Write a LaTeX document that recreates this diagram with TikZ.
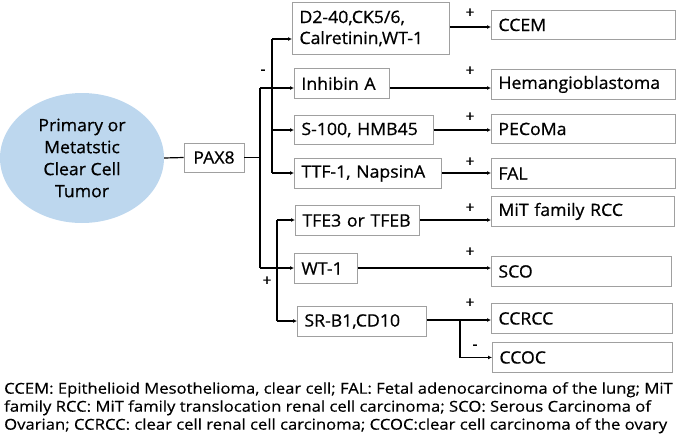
\documentclass[tikz,border=0pt]{standalone}
\usepackage{fontspec}
\setmainfont{Open Sans}
\newfontfamily\bxfont{Open Sans}[FakeBold=0.7, FakeStretch=1.04]
\newfontfamily\capfont{Open Sans}[FakeBold=0.4, FakeStretch=1.11]
\usetikzlibrary{arrows.meta,shapes.geometric}
\definecolor{boxgray}{RGB}{160,160,160}
\definecolor{ellblue}{RGB}{189,215,238}
\begin{document}
\begin{tikzpicture}[x=1pt,y=-1pt,
  box/.style={draw=boxgray, line width=0.9pt, inner xsep=7pt, inner ysep=0pt,
    anchor=north west, align=left, font=\bxfont\fontsize{17}{21}\selectfont},
  arr/.style={-{Latex[length=4pt,width=4pt]}, line width=1.2pt},
  ln/.style={line width=1.2pt},
  lbl/.style={font=\bxfont\fontsize{15}{15}\selectfont, inner sep=0pt}]
\useasboundingbox (0,0) rectangle (685,442);
% ellipse
\node[ellipse, fill=ellblue, minimum width=164pt, minimum height=130pt, inner sep=0pt,
  align=center, font=\bxfont\fontsize{17}{22}\selectfont] (ell) at (82,158)
  {Primary or\\Metatstic\\Clear Cell\\Tumor};
\node[draw=boxgray, line width=0.9pt, minimum width=60pt, minimum height=29pt, inner sep=0pt,
  font=\bxfont\fontsize{17}{21}\selectfont] (pax) at (214,157.5) {PAX8};
% middle boxes
\node[box, text width=143pt, minimum height=52pt] (d2) at (292,2) {D2-40,CK5/6,\\Calretinin,WT-1};
\node[box, text width=81pt, minimum height=30pt] (inh) at (294,68) {Inhibin A};
\node[box, text width=125pt, minimum height=29pt] (s100) at (294,115) {S-100, HMB45};
\node[box, text width=133pt, minimum height=30pt] (ttf) at (294,158) {TTF-1, NapsinA};
\node[box, text width=110pt, minimum height=30pt] (tfe) at (295,205) {TFE3 or TFEB};
\node[box, text width=49pt, minimum height=30pt] (wt) at (294,253) {WT-1};
\node[box, text width=115pt, minimum height=30pt] (sr) at (297,306) {SR-B1,CD10};
% right boxes
\node[box, text width=170pt, minimum height=29pt] (ccem) at (491,10) {CCEM};
\node[box, text width=170pt, minimum height=30pt] (hem) at (491,69) {Hemangioblastoma};
\node[box, text width=170pt, minimum height=29pt] (pec) at (491,114) {PECoMa};
\node[box, text width=170pt, minimum height=30pt] (fal) at (491,158) {FAL};
\node[box, text width=169pt, minimum height=30pt] (mit) at (491,196) {MiT family RCC};
\node[box, text width=166pt, minimum height=30pt] (sco) at (491,256) {SCO};
\node[box, text width=167pt, minimum height=30pt] (ccrcc) at (491,303) {CCRCC};
\node[box, text width=166pt, minimum height=30pt] (ccoc) at (492,342) {CCOC};
% trunk
\coordinate (t1) at (260,88);
\coordinate (t2) at (260,268);
\coordinate (m1) at (272,39);
\coordinate (mm) at (272,130);
\coordinate (m2) at (272,173);
\coordinate (p1) at (277,220);
\coordinate (p2) at (277,321);
\coordinate (br) at (460,320);
\draw[ln] (ell.east) -- (pax.west);
\draw[ln] (pax.east) -- (pax.east -| t1);
\draw[ln] (t1) -- (t2);
\draw[arr] (t1) -- (inh.west |- t1);
\draw[arr] (t2) -- (wt.west |- t2);
\draw[ln] (m1) -- (m2);
\draw[arr] (m1) -- (d2.west |- m1);
\draw[arr] (mm) -- (s100.west |- mm);
\draw[arr] (m2) -- (ttf.west |- m2);
\draw[ln] (p1) -- (p2);
\draw[arr] (p1) -- (tfe.west |- p1);
\draw[arr] (p2) -- (sr.west |- p2);
% right arrows
\draw[arr] (d2.east |- 0,27) -- (ccem.west |- 0,27);
\draw[arr] (inh.east |- t1) -- (hem.west |- t1);
\draw[arr] (s100.east |- mm) -- (pec.west |- mm);
\draw[arr] (ttf.east |- m2) -- (fal.west |- m2);
\draw[arr] (tfe.east |- p1) -- (mit.west |- p1);
\draw[arr] (wt.east |- t2) -- (sco.west |- t2);
\draw[arr] (sr.east |- br) -- (ccrcc.west |- br);
\draw[arr] (br) |- (ccoc.west);
% labels
\node[lbl] (lm) at (263,72) {-};
\node[lbl] (lp) at (267,281) {+};
\node[lbl] (l1) at (470,13) {+};
\node[lbl] (l2) at (470,71) {+};
\node[lbl] (l3) at (470,117) {+};
\node[lbl] (l4) at (470,162) {+};
\node[lbl] (l5) at (470,208) {+};
\node[lbl] (l6) at (470,252) {+};
\node[lbl] (l7) at (470,303) {+};
\node[lbl] (l8) at (475,347) {-};
% caption
\node[anchor=north west, align=left, inner sep=0pt, font=\capfont\fontsize{15}{18}\selectfont] (cap) at (4,382)
{CCEM: Epithelioid Mesothelioma, clear cell; FAL: Fetal adenocarcinoma of the lung; MiT\\
family RCC: MiT family translocation renal cell carcinoma; SCO: Serous Carcinoma of\\
Ovarian; CCRCC: clear cell renal cell carcinoma; CCOC:clear cell carcinoma of the ovary};
\end{tikzpicture}
\end{document}
